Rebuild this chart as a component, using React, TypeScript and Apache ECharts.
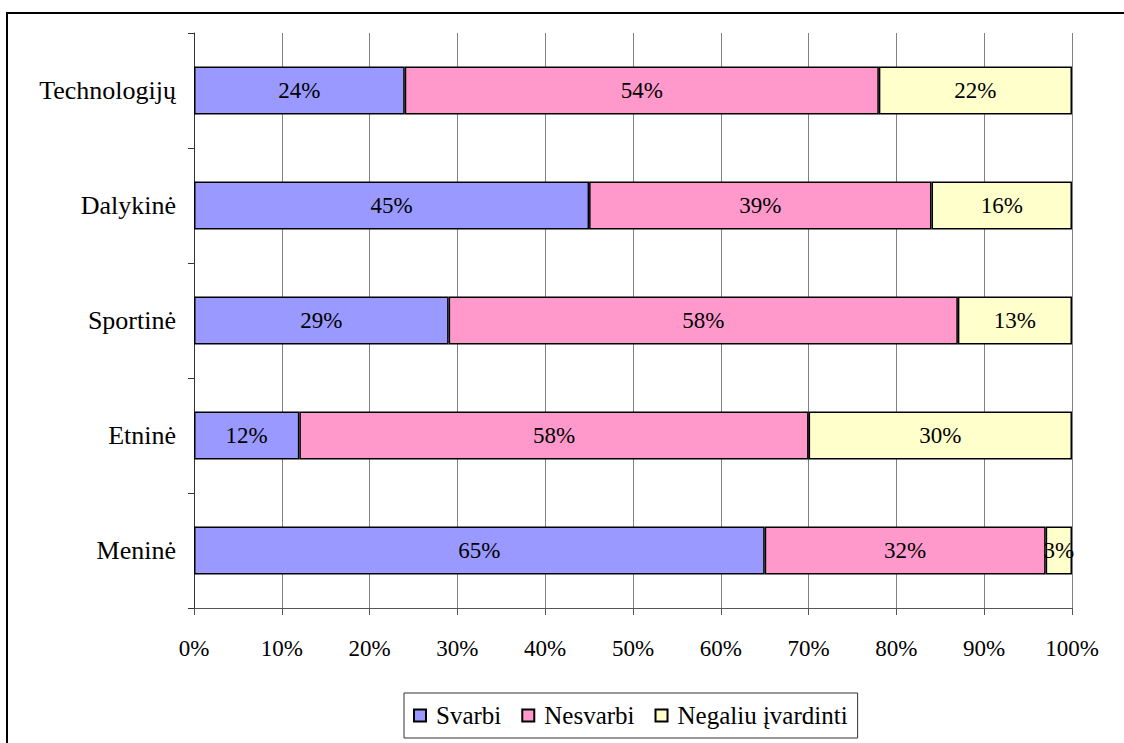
import React, { useEffect, useRef } from "react";
import * as echarts from "echarts";

const categories = ["Meninė", "Etninė", "Sportinė", "Dalykinė", "Technologijų"];
const svarbi = [65, 12, 29, 45, 24];
const nesvarbi = [32, 58, 58, 39, 54];
const negaliu = [3, 30, 13, 16, 22];
const seriesNames = ["Svarbi", "Nesvarbi", "Negaliu įvardinti"];
const seriesColors = ["#9999FF", "#FF99CC", "#FFFFCC"];
const xTicks = [0, 10, 20, 30, 40, 50, 60, 70, 80, 90, 100];

const FONT = "Liberation Serif, Times New Roman, serif";

export default function App() {
  const ref = useRef<HTMLDivElement>(null);
  useEffect(() => {
    if (!ref.current) return;
    const chart = echarts.init(ref.current, null, { renderer: "svg" });
    const data = [svarbi, nesvarbi, negaliu];
    chart.setOption({
      animation: false,
      backgroundColor: "#ffffff",
      textStyle: { fontFamily: FONT },
      graphic: [
        {
          type: "rect",
          shape: { x: 7, y: 13, width: 1130, height: 740 },
          style: { fill: "none", stroke: "#000", lineWidth: 2 },
          silent: true,
        },
      ],
      grid: { left: 194, right: 52, top: 33, bottom: 135 },
      legend: {
        left: 404,
        top: 693,
        padding: [10, 10, 10, 9],
        borderColor: "#333",
        borderWidth: 1,
        itemWidth: 12,
        itemHeight: 12,
        itemGap: 20,
        icon: "rect",
        textStyle: { fontFamily: FONT, fontSize: 25, color: "#000", padding: [0, 0, 0, 5] },
        data: seriesNames,
      },
      xAxis: {
        type: "value",
        min: 0,
        max: 100,
        interval: 10,
        axisLine: { show: true, lineStyle: { color: "#555", width: 1 } },
        axisTick: { show: true, length: 7, lineStyle: { color: "#555" } },
        axisLabel: {
          formatter: (v: number) => (xTicks.includes(v) ? v + "%" : ""),
          fontFamily: FONT,
          fontSize: 23,
          color: "#000",
          margin: 29,
        },
        splitLine: { show: true, lineStyle: { color: "#808080", width: 1 } },
      },
      yAxis: {
        type: "category",
        data: categories,
        axisLine: { show: true, lineStyle: { color: "#333", width: 1 } },
        axisTick: { show: true, length: 6, lineStyle: { color: "#333" } },
        axisLabel: { fontFamily: FONT, fontSize: 26, color: "#000", margin: 18 },
        splitLine: { show: false },
      },
      series: seriesNames.map((name, i) => ({
        name,
        type: "bar",
        stack: "total",
        barWidth: 48,
        data: data[i],
        itemStyle: { color: seriesColors[i], borderColor: "#000", borderWidth: 1.5 },
        label: {
          show: true,
          position: "inside",
          formatter: (p: any) => p.value + "%",
          fontFamily: FONT,
          fontSize: 23,
          color: "#000",
        },
      })),
    });
    return () => chart.dispose();
  }, []);
  return (
    <div
      ref={ref}
      style={{ position: "absolute", left: 0, top: 0, width: 1124, height: 743 }}
    />
  );
}
